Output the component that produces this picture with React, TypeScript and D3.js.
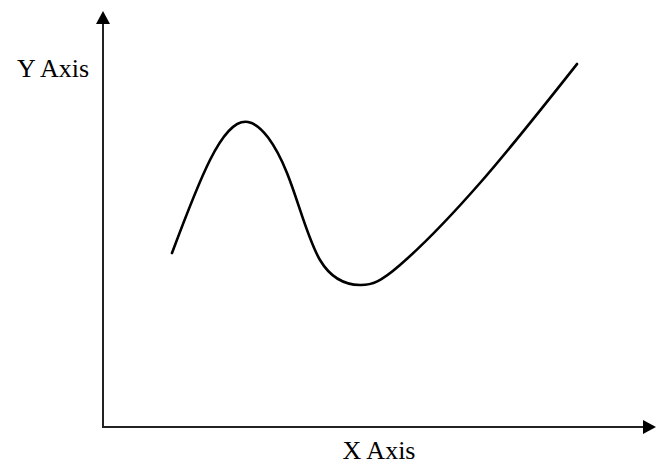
import React from 'react';
import * as d3 from 'd3';

// curve samples (x along the x axis, y up the y axis)
const curveX = [69, 107, 145, 184, 217, 257, 297, 377, 474];
const curveY = [174, 267, 305, 254, 167, 142, 162, 244, 363];

const xLabel = 'X Axis';
const yLabel = 'Y Axis';

const width = 660;
const height = 466;

const App: React.FC = () => {
    const xScale = d3.scaleLinear().domain([0, 553]).range([103, 656]);
    const yScale = d3.scaleLinear().domain([0, 416]).range([427, 11]);

    const points: [number, number][] = curveX.map((x, i) => [x, curveY[i]]);

    const line = d3.line<[number, number]>()
        .x(d => xScale(d[0]))
        .y(d => yScale(d[1]))
        .curve(d3.curveNatural);

    const [x0, x1] = xScale.range();
    const [y0, y1] = yScale.range();
    const head = 13;
    const half = 7;
    const font = "'Liberation Serif', 'Times New Roman', serif";

    return (
        <div style={{ position: 'absolute', left: 0, top: 0 }}>
            <svg width={width} height={height} style={{ display: 'block', background: '#fff' }}>
                {/* axes */}
                <line x1={x0} y1={y0} x2={x0} y2={y1 + head} stroke="#222" strokeWidth={2} />
                <line x1={x0 - 1} y1={y0} x2={x1 - head} y2={y0} stroke="#222" strokeWidth={2} />
                <path d={`M${x0},${y1} L${x0 - half},${y1 + head} L${x0 + half},${y1 + head} Z`} fill="#000" />
                <path d={`M${x1},${y0} L${x1 - head},${y0 - half} L${x1 - head},${y0 + half} Z`} fill="#000" />

                <path d={line(points) || ''} fill="none" stroke="#000" strokeWidth={2.6} strokeLinecap="round" />

                <text x={17} y={77} fontFamily={font} fontSize={26} fill="#000">{yLabel}</text>
                <text x={379} y={459} textAnchor="middle" fontFamily={font} fontSize={26} fill="#000">{xLabel}</text>
            </svg>
        </div>
    );
};

export default App;
